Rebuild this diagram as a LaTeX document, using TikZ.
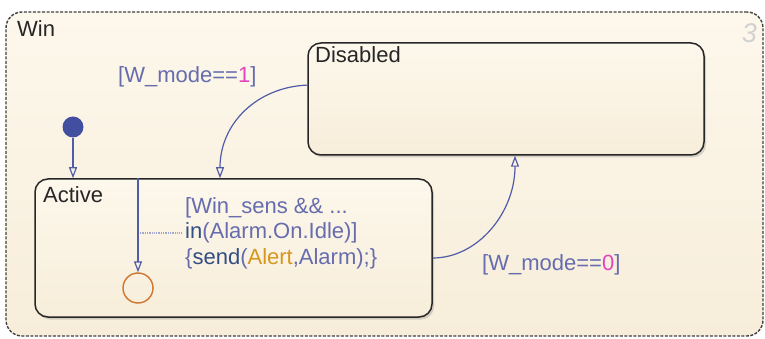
\documentclass[tikz,border=0pt]{standalone}
\usepackage{fontspec}
\setmainfont{Liberation Sans}
\usetikzlibrary{arrows.meta,shadows}
\definecolor{chartfill}{RGB}{253,248,236}
\definecolor{chartfilldark}{RGB}{247,237,218}
\definecolor{transblue}{RGB}{80,92,168}
\definecolor{dotblue}{RGB}{66,78,160}
\definecolor{labelblue}{RGB}{102,108,174}
\definecolor{keyblue}{RGB}{50,78,130}
\definecolor{numpink}{RGB}{225,70,190}
\definecolor{alertgold}{RGB}{215,150,30}
\definecolor{juncorange}{RGB}{205,118,45}

\begin{document}
\begin{tikzpicture}[x=1pt, y=-1pt, every node/.style={font=\fontsize{22}{25.5}\selectfont}, >={Triangle[open, length=11pt, width=8pt]}, chart/.style={draw=black!85, line width=1.5pt, rounded corners=13pt, top color=chartfill, bottom color=chartfilldark, inner sep=0pt, drop shadow={shadow xshift=2pt, shadow yshift=-2.5pt, opacity=0.3}}, tr/.style={transblue, line width=1.2pt}, lbl/.style={text=labelblue, inner sep=0pt, anchor=base west}]
	\useasboundingbox (0,0) rectangle (765,339);
	\node[draw=black!75, dash pattern=on 3pt off 1.5pt, line width=1.4pt, rounded corners=16pt, top color=chartfill, bottom color=chartfilldark, minimum width=757pt, minimum height=324pt] (win) at (384.5,174) {};
	\node[anchor=base west, inner sep=0pt, text=black!85] (winname) at (17,37) {Win};
	\node[anchor=base east, inner sep=0pt, text=black!18, font=\fontsize{27}{30}\selectfont\itshape] (chartnum) at (757,43) {3};
	\node[chart, minimum width=396pt, minimum height=112pt] (disabled) at (506,99) {};
	\node[chart, minimum width=397pt, minimum height=138pt] (active) at (233.5,248) {};
	\node[anchor=base west, inner sep=0pt, text=black!85] (disname) at (315,63) {Disabled};
	\node[anchor=base west, inner sep=0pt, text=black!85] (actname) at (43,202) {Active};
	\node[circle, fill=dotblue, minimum size=21pt, inner sep=0pt] (init) at (73,127) {};
	\node[circle, draw=juncorange, line width=1.4pt, minimum size=30pt, inner sep=0pt] (junc) at (138,288) {};
	\draw[tr, ->] (init) -- (init |- active.north);
	\draw[tr, ->] (junc |- active.north) -- (junc);
	\draw[tr, ->] (disabled.176) .. controls +(-50,2) and +(0,-55) .. ([xshift=-13.5pt]active.north);
	\draw[tr, ->] ([yshift=-10pt]active.east) .. controls +(45,0) and +(0,57) .. ([xshift=9pt]disabled.south);
	\node[lbl] (tooff) at (118,83) {[W\_mode==\textcolor{numpink}{1}]};
	\node[lbl] (toon) at (482,270) {[W\_mode==\textcolor{numpink}{0}]};
	\node[lbl, anchor=north west, align=left] (alertlbl) at (185,197) {[Win\_sens \&\& ...\\\textcolor{keyblue}{in}(Alarm.On.Idle)]\\\{\textcolor{keyblue}{send}(\textcolor{alertgold}{Alert},Alarm);\}};
	\draw[labelblue!60, densely dotted, line width=1.3pt] ([xshift=2pt]junc |- alertlbl.west) -- ([xshift=-3pt]alertlbl.west);
\end{tikzpicture}
\end{document}
